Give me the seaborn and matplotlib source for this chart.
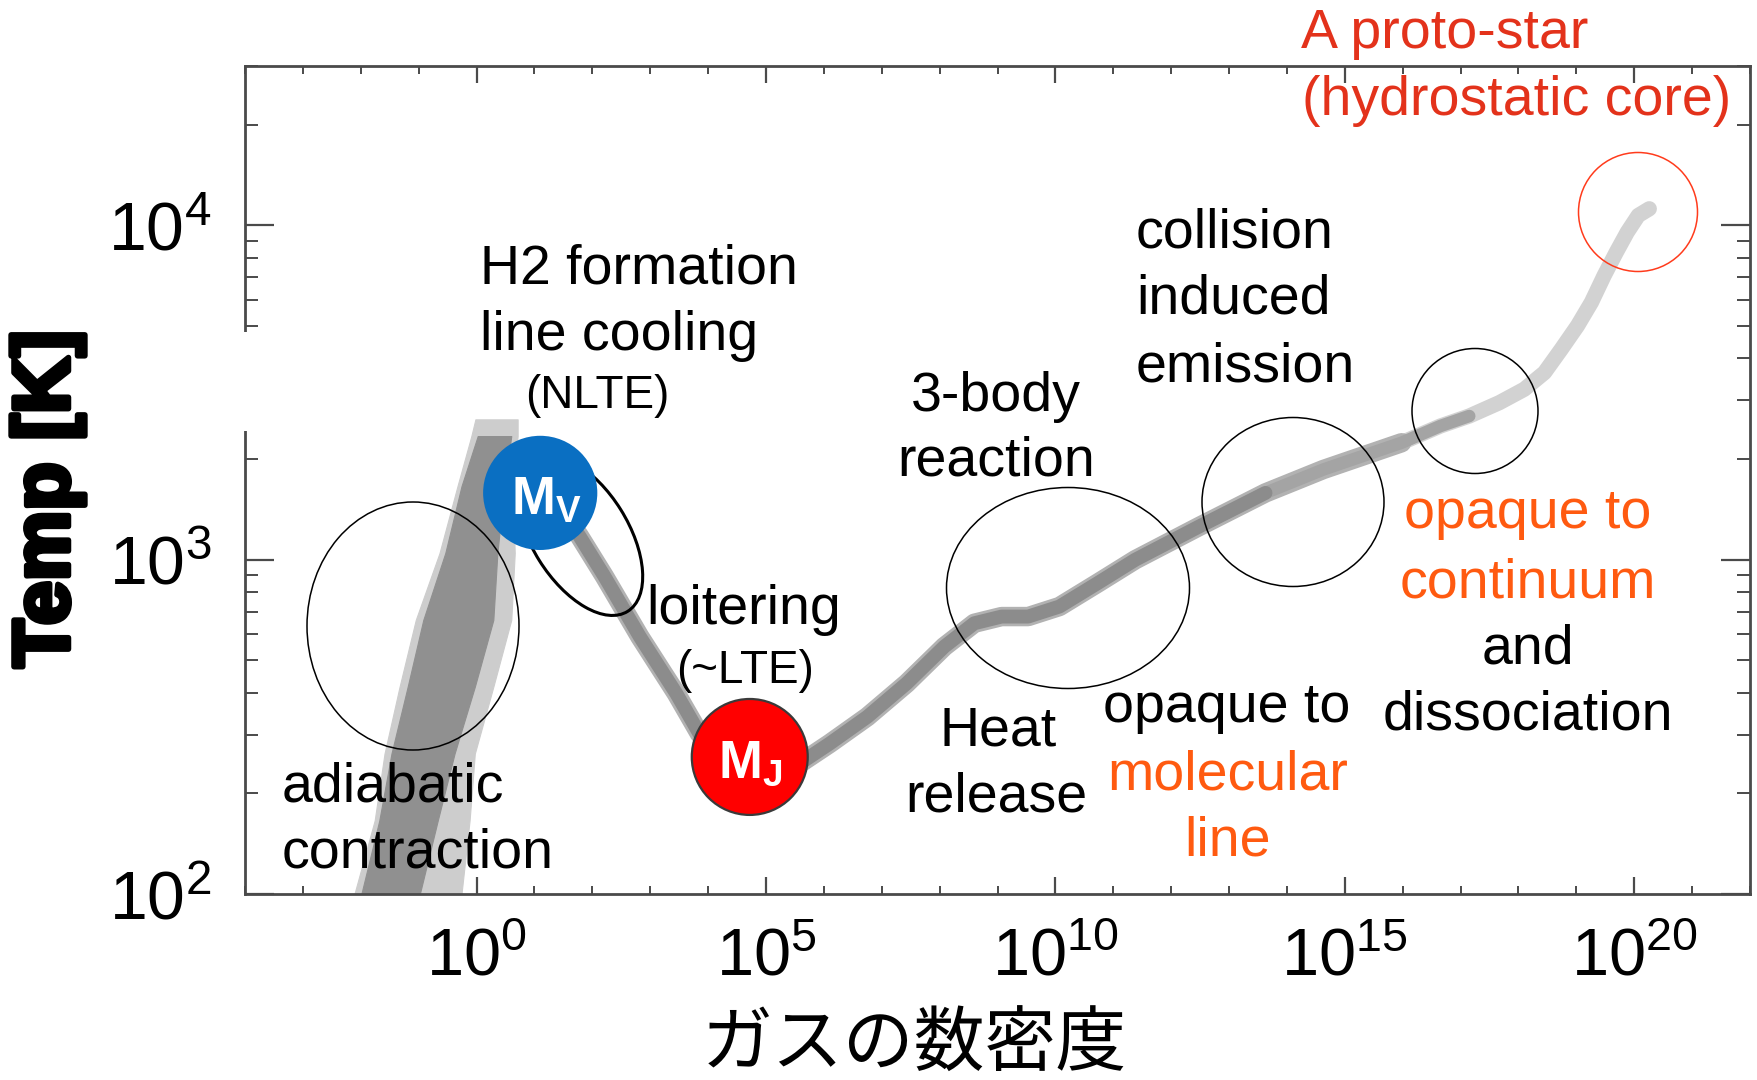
import numpy as np
import pandas as pd
import matplotlib
matplotlib.use("Agg")
import matplotlib.pyplot as plt
import seaborn as sns
from matplotlib.patches import Ellipse, Rectangle
from matplotlib.ticker import LogLocator, NullFormatter
import matplotlib.patheffects as pe

# ---------------- data (log10 values) ----------------
# centre of the thermal-evolution band after the first temperature peak
path_log_n = [0.40, 0.83, 1.35, 1.78, 2.21, 2.82, 3.45, 3.85, 4.28, 4.72,
              5.15, 5.58, 6.10, 6.75, 7.43, 8.08, 8.60, 9.07, 9.53, 10.07, 10.73,
              11.38, 12.49, 13.63, 14.63, 15.98, 16.65, 17.15, 17.67, 18.10,
              18.45, 18.74, 19.02, 19.26, 19.48, 19.69, 19.88, 20.07, 20.26]
path_log_T = [3.33, 3.28, 3.18, 3.07, 2.95, 2.77, 2.60, 2.48, 2.39, 2.36,
              2.37, 2.39, 2.45, 2.53, 2.63, 2.74, 2.81, 2.83, 2.83, 2.86, 2.93,
              3.00, 3.10, 3.20, 3.27, 3.35, 3.40, 3.43, 3.47, 3.51,
              3.56, 3.63, 3.70, 3.77, 3.85, 3.92, 3.98, 4.03, 4.05]

# wide scatter band of the adiabatic-contraction phase (edges in log n)
adiab_log_T = [2.00, 2.22, 2.42, 2.62, 2.82, 3.02, 3.22, 3.37, 3.42]
adiab_outer_left = [-2.11, -1.76, -1.59, -1.33, -1.05, -0.64, -0.33, -0.09, -0.02]
adiab_outer_right = [-0.26, -0.12, -0.03, 0.29, 0.60, 0.66, 0.62, 0.71, 0.71]
adiab_inner_log_T = [2.00, 2.22, 2.42, 2.62, 2.82, 3.02, 3.22, 3.37]
adiab_inner_left = [-1.99, -1.68, -1.47, -1.19, -0.92, -0.54, -0.26, 0.02]
adiab_inner_right = [-0.98, -0.67, -0.38, -0.03, 0.29, 0.36, 0.48, 0.60]

# characteristic mass markers
mass_subscripts = ["V", "J"]
mass_log_n = [1.10, 4.72]
mass_log_T = [3.20, 2.41]
mass_colors = ["#0a6fc2", "#ff0000"]

x_major_exp = [0, 5, 10, 15, 20]
y_major_exp = [2, 3, 4]
x_limits_exp = (-4, 22)
y_limits = (100, 30000)

# ---------------- style ----------------
sns.set_theme(style="white")
plt.rcParams["font.family"] = ["Liberation Sans", "Noto Sans CJK JP", "DejaVu Sans"]
plt.rcParams["mathtext.fontset"] = "custom"
plt.rcParams["mathtext.rm"] = "Liberation Sans"
plt.rcParams["mathtext.it"] = "Liberation Sans:italic"
plt.rcParams["mathtext.bf"] = "Liberation Sans:bold"

W, H = 1758, 1080
fig = plt.figure(figsize=(W / 100, H / 100), dpi=100)
fig.patch.set_facecolor("white")
ax = fig.add_axes([245 / W, 1 - 894 / H, (1750 - 245) / W, (894 - 66) / H])
ax.set_xscale("log")
ax.set_yscale("log")

# ---------------- band ----------------
ln = np.array(path_log_n)
lT = np.array(path_log_T)
layers = {
    "light": ln >= 15.98,
    "halo": ln <= 15.98,
    "mid": (ln >= 12.49) & (ln <= 17.15),
    "core": ln <= 13.63,
}
df = pd.concat([pd.DataFrame({"n": 10 ** ln[m], "T": 10 ** lT[m], "layer": k})
                for k, m in layers.items()], ignore_index=True)
order = ["light", "halo", "mid", "core"]
sns.lineplot(data=df, x="n", y="T", hue="layer", size="layer",
             hue_order=order, size_order=order,
             palette={"light": "#d2d2d2", "halo": "#b2b2b2", "mid": "#a4a4a4", "core": "#8c8c8c"},
             sizes={"light": 11.0, "halo": 14.0, "mid": 9.0, "core": 10.0},
             estimator=None, sort=False, legend=False, ax=ax,
             solid_capstyle="round", zorder=2)

ax.fill_betweenx(10.0 ** np.array(adiab_log_T), 10.0 ** np.array(adiab_outer_left),
                 10.0 ** np.array(adiab_outer_right), facecolor="#cdcdcd",
                 edgecolor="#cdcdcd", lw=0.8, zorder=2.2)
ax.fill_betweenx(10.0 ** np.array(adiab_inner_log_T), 10.0 ** np.array(adiab_inner_left),
                 10.0 ** np.array(adiab_inner_right), facecolor="#909090",
                 edgecolor="#909090", lw=0.8, zorder=2.3)

# ---------------- annotation ellipses (pixel units of the image) ----------------
def add_ellipse(cx, cy, w, h, angle=0, color="black", lw=1.1, z=3):
    e = Ellipse((cx / 100, (H - cy) / 100), w / 100, h / 100, angle=angle,
                transform=fig.dpi_scale_trans, fill=False, edgecolor=color,
                linewidth=lw, zorder=z)
    ax.add_artist(e)

add_ellipse(413, 626, 212, 248)
add_ellipse(580, 535, 180, 96, angle=-58, lw=2.2)
add_ellipse(1068, 588, 243, 201)
add_ellipse(1293, 502, 182, 169)
add_ellipse(1475, 411, 126, 125)
add_ellipse(1638, 212, 119, 119, color="#ff3b1c")

# ---------------- mass markers ----------------
sns.scatterplot(x=10.0 ** np.array(mass_log_n), y=10.0 ** np.array(mass_log_T),
                hue=mass_subscripts, palette=dict(zip(mass_subscripts, mass_colors)),
                size=mass_subscripts, sizes={"V": 6500, "J": 6970},
                edgecolor=["#0a6fc2", "#3a3a3a"], linewidth=1.6, legend=False,
                ax=ax, zorder=4)
offsets = [(4.3, -5.5), (0.5, -5.0)]
for sub, xn, yT, off in zip(mass_subscripts, mass_log_n, mass_log_T, offsets):
    ax.annotate(rf"$\mathbf{{M}}_{{\mathbf{{{sub}}}}}$", xy=(10 ** xn, 10 ** yT),
                xytext=off, textcoords="offset points", ha="center", va="center",
                fontsize=38, color="white", zorder=5)

# ---------------- axes ----------------
ax.set_xlim(10.0 ** x_limits_exp[0], 10.0 ** x_limits_exp[1])
ax.set_ylim(*y_limits)
ax.set_xticks(10.0 ** np.array(x_major_exp))
ax.set_xticklabels([rf"$\mathdefault{{10^{{{e}}}}}$" for e in x_major_exp])
ax.set_xticks([10.0 ** e for e in range(x_limits_exp[0], x_limits_exp[1] + 1)
               if e not in x_major_exp], minor=True)
ax.xaxis.set_minor_formatter(NullFormatter())
ax.set_yticks(10.0 ** np.array(y_major_exp))
ax.set_yticklabels([rf"$\mathdefault{{10^{{{e}}}}}$" for e in y_major_exp])
ax.yaxis.set_minor_locator(LogLocator(base=10, subs=np.arange(2, 10), numticks=30))
ax.yaxis.set_minor_formatter(NullFormatter())

tick_col = "#4a4a4a"
ax.tick_params(axis="x", which="major", direction="in", length=12, width=1.6,
               color=tick_col, top=True, bottom=True, labelsize=48, pad=24,
               labelcolor="black")
ax.tick_params(axis="x", which="minor", direction="in", length=5.5, width=1.4,
               color=tick_col, top=True, bottom=True)
ax.tick_params(axis="y", which="major", direction="in", length=21, width=1.6,
               color=tick_col, left=True, right=True, labelsize=49, pad=24,
               labelcolor="black")
ax.tick_params(axis="y", which="minor", direction="in", length=9.5, width=1.4,
               color=tick_col, left=True, right=True)
for sp in ax.spines.values():
    sp.set_color("#4a4a4a")
    sp.set_linewidth(2.0)

# gap in the left frame as in the reference
ax.add_patch(Rectangle((-0.008, 0.559), 0.02, 0.12, transform=ax.transAxes,
                       facecolor="white", edgecolor="none", clip_on=False, zorder=3))

ax.set_ylabel("Temp [K]", fontsize=57, fontweight="bold", color="black",
              path_effects=[pe.withStroke(linewidth=4, foreground="black")])
ax.yaxis.set_label_coords(-0.106, 0.477)
ax.set_xlabel("ガスの数密度", fontsize=51, color="black",
              family=["Noto Sans CJK JP", "DejaVu Sans"])
ax.xaxis.set_label_coords(0.4445, -0.139)

# ---------------- labels ----------------
ORANGE = "#ff5a10"
RED = "#e3321b"

def ptext(px, py, s, size=40, color="black", ha="center"):
    fig.text(px / W, 1 - py / H, s, fontsize=size, color=color, ha=ha,
             va="baseline", zorder=6)

ptext(282, 801, "adiabatic", ha="left")
ptext(282, 868, "contraction", ha="left")
ptext(480, 284, "H2 formation", ha="left")
ptext(480, 350, "line cooling", ha="left")
ptext(597, 408, "(NLTE)", size=33)
ptext(744, 624, "loitering")
ptext(745, 683, "(~LTE)", size=33)
ptext(996, 411, "3-body")
ptext(996, 475, "reaction")
ptext(998, 745, "Heat")
ptext(996, 811, "release")
ptext(1136, 248, "collision", ha="left")
ptext(1136, 314, "induced", ha="left")
ptext(1136, 381, "emission", ha="left")
ptext(1227, 722, "opaque to")
ptext(1228, 789, "molecular", color=ORANGE)
ptext(1228, 856, "line", color=ORANGE)
ptext(1528, 528, "opaque to", color=ORANGE)
ptext(1528, 597, "continuum", color=ORANGE)
ptext(1528, 663, "and")
ptext(1528, 730, "dissociation")
ptext(1301, 48, "A proto-star", color=RED, ha="left")
ptext(1302, 115, "(hydrostatic core)", color=RED, ha="left")

fig.savefig("out.png", dpi=100, facecolor="white")
